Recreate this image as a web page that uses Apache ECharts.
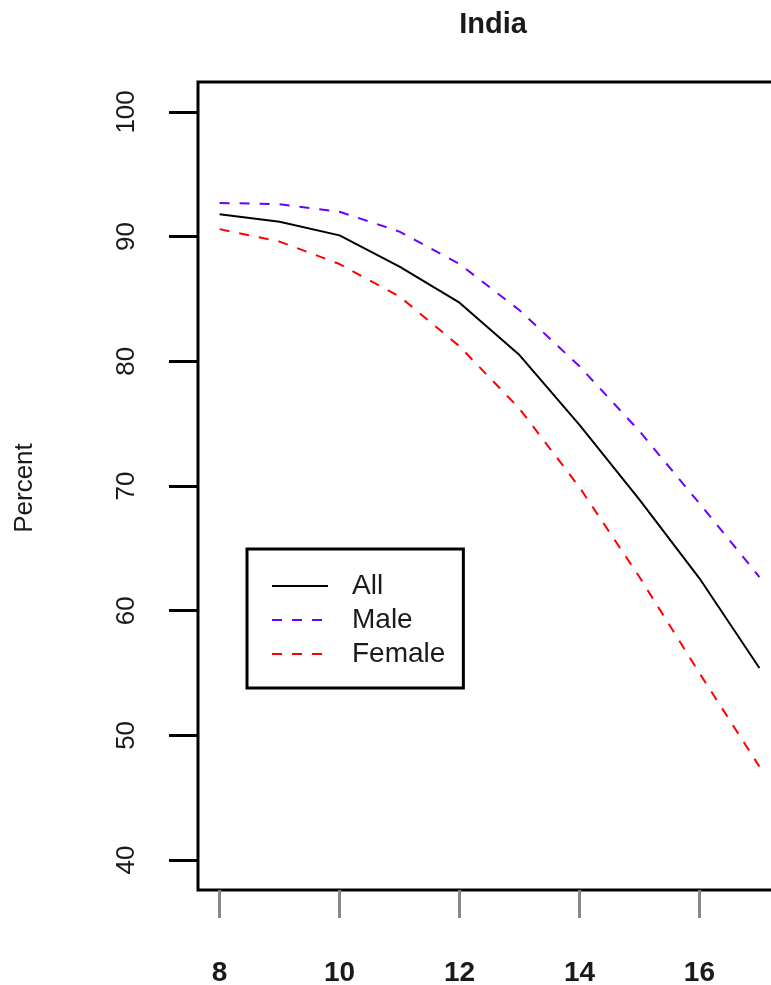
<!DOCTYPE html>
<html>
<head>
<meta charset="utf-8">
<script src="https://cdn.jsdelivr.net/npm/echarts@6/dist/echarts.min.js"></script>
<style>html,body{margin:0;padding:0;background:#fff;}#c{width:771px;height:985px;}</style>
</head>
<body>
<div id="c"></div>
<script>
var ages = [8, 9, 10, 11, 12, 13, 14, 15, 16, 17];
var allPct = [91.8, 91.2, 90.1, 87.6, 84.7, 80.5, 74.9, 68.9, 62.6, 55.4];
var malePct = [92.7, 92.6, 92.0, 90.4, 87.8, 84.1, 79.6, 74.4, 68.6, 62.7];
var femalePct = [90.6, 89.6, 87.8, 85.2, 81.2, 76.2, 69.9, 62.7, 55.0, 47.5];
var xTicks = [8, 10, 12, 14, 16];
var yTicks = [40, 50, 60, 70, 80, 90, 100];
var seriesNames = ['All', 'Male', 'Female'];

function pairs(vals) { return ages.map(function (a, i) { return [a, vals[i]]; }); }

var font = 'Liberation Sans, Arial, Helvetica, sans-serif';
var chart = echarts.init(document.getElementById('c'), null, {renderer: 'canvas'});
chart.setOption({
  animation: false,
  backgroundColor: '#fff',
  title: {
    text: 'India', left: 488, top: 5, textAlign: 'center',
    textStyle: {fontFamily: font, fontSize: 29, fontWeight: 'bold', color: '#1a1a1a'}
  },
  grid: {left: 198, top: 82, width: 583, height: 808, outerBoundsMode: 'none', containLabel: false,
         show: true, borderColor: '#000', borderWidth: 3, backgroundColor: 'transparent'},
  xAxis: {
    type: 'value', min: 7.64, max: 17.36,
    axisLine: {show: false},
    splitLine: {show: false},
    axisTick: {show: true, customValues: xTicks, length: 28, lineStyle: {color: '#888', width: 3}},
    axisLabel: {customValues: xTicks, margin: 69, fontFamily: font, fontSize: 28, fontWeight: 'bold', color: '#1a1a1a'}
  },
  yAxis: {
    type: 'value', min: 37.6, max: 102.4,
    axisLine: {show: false},
    splitLine: {show: false},
    axisTick: {show: true, customValues: yTicks, length: 29, lineStyle: {color: '#000', width: 3}},
    axisLabel: {customValues: yTicks, rotate: 90, margin: 58, fontFamily: font, fontSize: 26, color: '#1a1a1a'}
  },
  graphic: [{
    type: 'text', x: 25, y: 488, rotation: Math.PI / 2,
    style: {text: 'Percent', font: '26px ' + font, fill: '#1a1a1a', align: 'center', verticalAlign: 'middle'}
  }],
  legend: {
    orient: 'vertical', left: 247, top: 549,
    padding: [23, 18, 20, 24],
    borderColor: '#000', borderWidth: 3, backgroundColor: '#fff',
    itemWidth: 56, itemHeight: 25, itemGap: 6,
    itemStyle: {opacity: 0, borderWidth: 0},
    data: seriesNames,
    textStyle: {fontFamily: font, fontSize: 28, color: '#1a1a1a', lineHeight: 25, padding: [0, 0, 0, 19]}
  },
  series: [
    {name: seriesNames[0], type: 'line', data: pairs(allPct), symbol: 'none', lineStyle: {color: '#000', width: 2, type: 'solid'}, itemStyle: {color: '#000'}},
    {name: seriesNames[1], type: 'line', data: pairs(malePct), symbol: 'none', lineStyle: {color: '#6a00ff', width: 2, type: [10, 10]}, itemStyle: {color: '#6a00ff'}},
    {name: seriesNames[2], type: 'line', data: pairs(femalePct), symbol: 'none', lineStyle: {color: '#ff0000', width: 2, type: [10, 10]}, itemStyle: {color: '#ff0000'}}
  ]
});
</script>
</body>
</html>
